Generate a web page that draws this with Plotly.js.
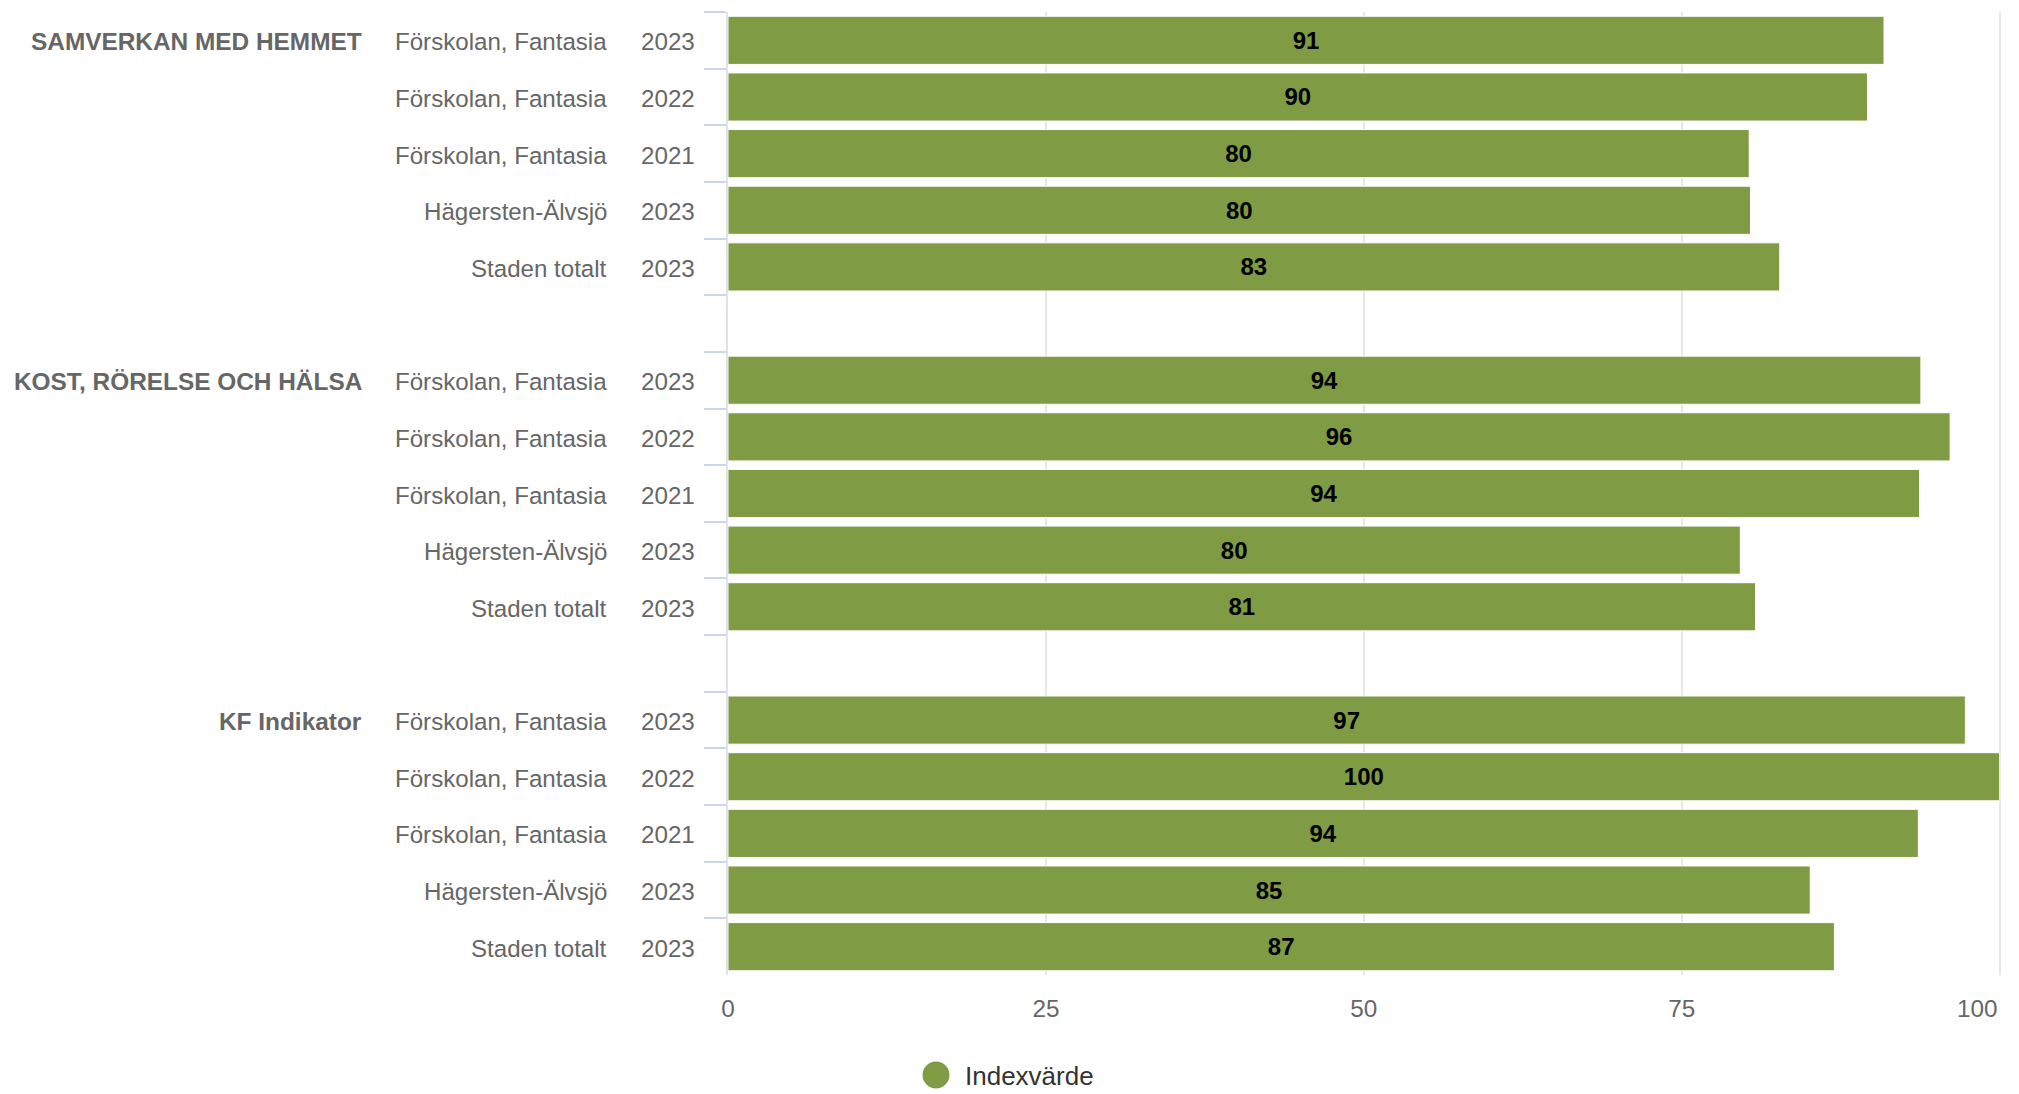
<!DOCTYPE html>
<html>
<head>
<meta charset="utf-8">
<script src="https://cdn.plot.ly/plotly-3.0.1.min.js"></script>
<style>
  html, body { margin: 0; padding: 0; background: #ffffff; }
  #chart { width: 2019px; height: 1094px; }
</style>
</head>
<body>
<div id="chart"></div>
<script>
// ---- Data ----
const groups = ['SAMVERKAN MED HEMMET', 'KOST, RÖRELSE OCH HÄLSA', 'KF Indikator'];
const units = ['Förskolan, Fantasia', 'Förskolan, Fantasia', 'Förskolan, Fantasia', 'Hägersten-Älvsjö', 'Staden totalt'];
const years = ['2023', '2022', '2021', '2023', '2023'];
const samverkanValues = [90.9, 89.6, 80.3, 80.4, 82.7];
const kostValues = [93.8, 96.1, 93.7, 79.6, 80.8];
const kfValues = [97.3, 100, 93.6, 85.1, 87.0];
const groupValues = [samverkanValues, kostValues, kfValues];
const seriesName = 'Indexvärde';
const xTickVals = [0, 25, 50, 75, 100];
const xTickLabels = ['0', '25', '50', '75', '100'];

// ---- Build categories (with an empty spacer row between groups) ----
const FONT = '"Liberation Sans", Arial, Helvetica, sans-serif';
const categoryArray = [];
const barY = [];
const barX = [];
const annotations = [];

groups.forEach((g, gi) => {
  units.forEach((u, i) => {
    const id = g + ' | ' + u + ' | ' + years[i];
    categoryArray.push(id);
    barY.push(id);
    barX.push(groupValues[gi][i]);
    if (i === 0) {
      annotations.push({
        xref: 'paper', yref: 'y', x: 0, y: id, xanchor: 'right', yanchor: 'middle',
        xshift: -364, yshift: -1.5, showarrow: false, text: '<b>' + g + '</b>',
        font: { family: FONT, size: 24.4, color: '#666666' }
      });
    }
    annotations.push({
      xref: 'paper', yref: 'y', x: 0, y: id, xanchor: 'right', yanchor: 'middle',
      xshift: -119, yshift: -1.5, showarrow: false, text: u,
      font: { family: FONT, size: 24.1, color: '#666666' }
    });
    annotations.push({
      xref: 'paper', yref: 'y', x: 0, y: id, xanchor: 'right', yanchor: 'middle',
      xshift: -31, yshift: -1.5, showarrow: false, text: years[i],
      font: { family: FONT, size: 24.2, color: '#666666' }
    });
  });
  if (gi < groups.length - 1) {
    categoryArray.push('spacer ' + gi);
  }
});

// last x tick label is kept inside the chart edge (right-aligned), like the reference
const xTickText = xTickLabels.map((t, i) => (i === xTickLabels.length - 1 ? '' : t));
annotations.push({
  xref: 'x', yref: 'paper', x: xTickVals[xTickVals.length - 1], y: 0,
  xanchor: 'right', yanchor: 'middle', xshift: 0, yshift: -33,
  showarrow: false, text: xTickLabels[xTickLabels.length - 1],
  font: { family: FONT, size: 24.3, color: '#666666' }
});

// legend (manual, circle marker like the reference)
annotations.push({
  xref: 'paper', yref: 'paper', x: 0, y: 0, xanchor: 'left', yanchor: 'middle',
  xshift: 235, yshift: -101, showarrow: false, text: seriesName,
  font: { family: FONT, size: 26, color: '#333333' }
});

const trace = {
  type: 'bar',
  orientation: 'h',
  name: seriesName,
  x: barX,
  y: barY,
  marker: { color: '#7f9c45', line: { color: '#ffffff', width: 1 } },
  texttemplate: '<b>%{x:.0f}</b>',
  textposition: 'inside',
  insidetextanchor: 'middle',
  constraintext: 'none',
  textangle: 0,
  insidetextfont: { family: FONT, size: 24, color: '#000000' },
  hoverinfo: 'skip',
  showlegend: false
};

const layout = {
  width: 2019,
  height: 1094,
  margin: { l: 728, r: 18, t: 12, b: 119 },
  paper_bgcolor: '#ffffff',
  plot_bgcolor: '#ffffff',
  bargap: 0.15,
  showlegend: false,
  font: { family: FONT, size: 24, color: '#666666' },
  xaxis: {
    range: [0, 100.1],
    tickvals: xTickVals,
    ticktext: xTickText,
    showgrid: true,
    gridcolor: '#e6e6e6',
    gridwidth: 2,
    zeroline: false,
    showline: false,
    ticks: '',
    ticklabelstandoff: 17,
    tickfont: { family: FONT, size: 24.3, color: '#666666' },
    fixedrange: true
  },
  yaxis: {
    type: 'category',
    categoryorder: 'array',
    categoryarray: categoryArray,
    range: [categoryArray.length - 0.5, -0.5],
    showticklabels: false,
    showgrid: false,
    zeroline: false,
    showline: true,
    linecolor: '#dde2ec',
    linewidth: 2,
    ticks: 'outside',
    tickson: 'boundaries',
    ticklen: 22,
    tickwidth: 2,
    tickcolor: '#ccd6eb',
    fixedrange: true
  },
  shapes: [{
    type: 'circle',
    xref: 'paper', yref: 'paper',
    xsizemode: 'pixel', ysizemode: 'pixel',
    xanchor: 0, yanchor: 0,
    x0: 194.5, x1: 221.5, y0: -113.5, y1: -86.5,
    fillcolor: '#7f9c45',
    line: { width: 0 }
  }],
  annotations: annotations
};

Plotly.newPlot('chart', [trace], layout, { displayModeBar: false, staticPlot: true });
</script>
</body>
</html>
